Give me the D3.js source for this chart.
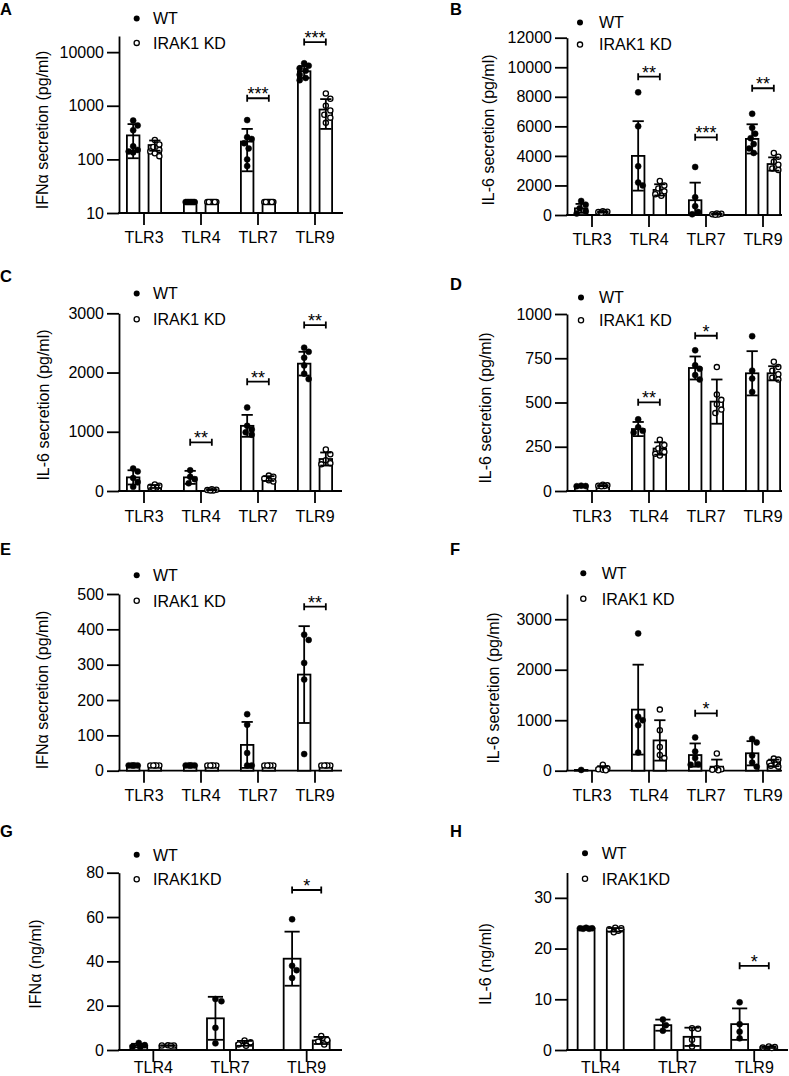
<!DOCTYPE html>
<html><head><meta charset="utf-8">
<script src="https://cdn.jsdelivr.net/npm/d3@7"></script>
<style>
body{margin:0;background:#fff}
svg{display:block}
text{font-family:"Liberation Sans",Arial,sans-serif;fill:#000}
</style>
</head><body>
<svg id="c" width="789" height="1076"></svg>
<script>
// ---------- DATA ----------
const cats4 = ["TLR3","TLR4","TLR7","TLR9"];
const cats3 = ["TLR4","TLR7","TLR9"];
const seriesNames = ["WT","IRAK1 KD"];
const seriesNamesGH = ["WT","IRAK1KD"];

// Panel A (log scale)
const aTicks = [10,100,1000,10000];
const aWTMean = [280,16,215,4400];
const aWTSD = [175,0,155,1100];
const aKDMean = [185,16,16,850];
const aKDSD = [40,0,0,480];
const aWTPts = [[530,430,350,175,150,140,135],[16,16,16,16,16,16,16],[540,260,240,200,160,100,75],[6200,5600,5000,4500,3800,3300,3000]];
const aKDPts = [[230,190,170,150,140,130,115],[16,16,16,16,16,16,16],[16,16,16,16,16,16,16],[1700,1350,1000,820,680,600,480]];
const aSig = [{cat:"TLR7",y:1380,label:"***"},{cat:"TLR9",y:15400,label:"***"}];

// Panel B
const bTicks = [0,2000,4000,6000,8000,10000,12000];
const bWTMean = [450,4000,1000,5150];
const bWTSD = [300,2350,1190,990];
const bKDMean = [200,1700,60,3450];
const bKDSD = [40,380,30,450];
const bWTPts = [[950,700,450,250,100],[8300,6000,3300,2200,2000],[3250,1200,600,200,50],[6850,5900,5500,5200,4800,4500,4200]];
const bKDPts = [[250,220,200,180,150],[2300,2000,1800,1600,1400,1300],[100,80,50,30,20],[4200,3950,3600,3400,3150,3050]];
const bSig = [{cat:"TLR4",y:9360,label:"**"},{cat:"TLR7",y:5260,label:"***"},{cat:"TLR9",y:8580,label:"**"}];

// Panel C
const cTicks = [0,1000,2000,3000];
const cWTMean = [230,230,1100,2150];
const cWTSD = [120,110,185,200];
const cKDMean = [76,20,210,540];
const cKDSD = [25,8,40,110];
const cWTPts = [[380,330,220,150,70],[350,240,200,130],[1410,1100,1040,990,950],[2420,2350,2250,2120,1980,1890]];
const cKDPts = [[110,90,70,60,50],[30,20,15,10,10],[260,240,210,180,160],[700,620,520,470,450]];
const cSig = [{cat:"TLR4",y:822,label:"**"},{cat:"TLR7",y:1845,label:"**"},{cat:"TLR9",y:2802,label:"**"}];

// Panel D
const dTicks = [0,250,500,750,1000];
const dWTMean = [28,350,695,665];
const dWTSD = [0,40,65,125];
const dKDMean = [30,240,505,665];
const dKDSD = [3,35,125,40];
const dWTPts = [[30,28,27],[405,360,340,330],[795,710,690,655,630],[875,680,635,560]];
const dKDPts = [[35,32,30,28,27],[290,260,240,220,210,200],[700,545,515,490,460,440],[730,700,680,660,640,630]];
const dSig = [{cat:"TLR4",y:501,label:"**"},{cat:"TLR7",y:877,label:"*"}];

// Panel E
const eTicks = [0,100,200,300,400,500];
const eWTMean = [15,15,73,272];
const eWTSD = [0,0,65,137];
const eKDMean = [15,15,15,15];
const eKDSD = [0,0,0,0];
const eWTPts = [[15,15,15,15,15],[15,15,15,15,15],[160,130,50,15,15],[385,370,305,258,47]];
const eKDPts = [[15,15,15,15,15],[15,15,15,15,15],[15,15,15,15,15],[15,15,15,15,15]];
const eSig = [{cat:"TLR9",y:464,label:"**"}];

// Panel F
const fTicks = [0,1000,2000,3000];
const fWTMean = [15,1210,310,345];
const fWTSD = [0,890,230,240];
const fKDMean = [45,600,80,155];
const fKDSD = [45,400,140,65];
const fWTPts = [[15],[2720,1070,1000,900,360],[660,380,250,130,120],[630,560,300,160,80]];
const fKDPts = [[120,50,30,20,10],[1210,800,470,310,250],[340,50,30,20,10],[240,220,160,120,100,80]];
const fSig = [{cat:"TLR7",y:1136,label:"*"}];

// Panel G
const gTicks = [0,20,40,60,80];
const gWTMean = [2.0,14.3,41.2];
const gWTSD = [0.8,9.7,12.2];
const gKDMean = [2.0,3.0,4.3];
const gKDSD = [0.1,1.1,1.6];
const gWTPts = [[3.2,2.2,1.6,1.2],[23,22,10,3],[59,38,36,32.5]];
const gKDPts = [[2.1,2.0,1.9,2.0],[4.3,3.5,2.5,1.9],[6.3,4.5,3.8,2.5]];
const gSig = [{cat:"TLR9",y:72.2,label:"*"}];

// Panel H
const hTicks = [0,10,20,30];
const hWTMean = [24.0,4.9,5.1];
const hWTSD = [0.1,1.1,3.1];
const hKDMean = [23.7,2.6,0.55];
const hKDSD = [0.35,1.8,0.15];
const hWTPts = [[24.1,24.0,23.9,24.0,23.9],[6.0,4.9,3.8],[9.4,5.1,3.6,2.3]];
const hKDPts = [[24.1,23.8,23.5,23.2,24.0],[4.3,4.2,2.0,0.7],[0.7,0.6,0.5,0.4]];
const hSig = [{cat:"TLR9",y:16.6,label:"*"}];

const titles = {
  A:"IFNα secretion (pg/ml)", B:"IL-6 secretion (pg/ml)", C:"IL-6 secretion (pg/ml)", D:"IL-6 secretion (pg/ml)",
  E:"IFNα secretion (pg/ml)", F:"IL-6 secretion (pg/ml)", G:"IFNα (ng/ml)", H:"IL-6 (ng/ml)"
};

// ---------- LAYOUT ----------
const layout = {
  A:{ax:119,base:213,top:36,xr:[115.5,343.5],xEnd:343,log:true,max:20000,letter:[0,15],leg:[136.7,18.5,42.9,153],title:[42,130],lab:243.3},
  B:{ax:567,base:215,top:37.7,xr:[563.5,791.5],xEnd:782,max:12000,letter:[450,15],leg:[580,22.6,44.6,599],title:[488.3,130],lab:245},
  C:{ax:119,base:491,top:313.3,xr:[115.5,343.5],xEnd:342,max:3000,letter:[0,281.7],leg:[136.7,293.5,319.2,153],title:[42.7,405],lab:521.7},
  D:{ax:567,base:491,top:314,xr:[563.5,791.5],xEnd:782,max:1000,letter:[450,290],leg:[581,297.5,320.2,599],title:[485,408],lab:521.7},
  E:{ax:119,base:770.7,top:594,xr:[115.5,343.5],xEnd:342,max:500,letter:[0,555],leg:[136.7,575.2,600.8,153],title:[41.7,690],lab:801},
  F:{ax:567,base:770.7,top:594,xr:[563.5,791.5],xEnd:782,max:3500,letter:[450,555],leg:[583.3,573.2,598.8,601.7],title:[493.3,688],lab:801},
  G:{ax:119,base:1050,top:872.7,xr:[115,345],xEnd:342,max:80,letter:[0,836.7],leg:[136.7,854.8,879.2,153],title:[35,964],lab:1072.5},
  H:{ax:567,base:1050,top:872.5,xr:[562.3,792.6],xEnd:788,max:35,letter:[450,836.7],leg:[585,853.2,878.8,601.7],title:[485,964],lab:1072.5}
};

const panels = [
  {id:"A",cats:cats4,ticks:aTicks,wm:aWTMean,ws:aWTSD,km:aKDMean,ks:aKDSD,wp:aWTPts,kp:aKDPts,sig:aSig,names:seriesNames},
  {id:"B",cats:cats4,ticks:bTicks,wm:bWTMean,ws:bWTSD,km:bKDMean,ks:bKDSD,wp:bWTPts,kp:bKDPts,sig:bSig,names:seriesNames},
  {id:"C",cats:cats4,ticks:cTicks,wm:cWTMean,ws:cWTSD,km:cKDMean,ks:cKDSD,wp:cWTPts,kp:cKDPts,sig:cSig,names:seriesNames},
  {id:"D",cats:cats4,ticks:dTicks,wm:dWTMean,ws:dWTSD,km:dKDMean,ks:dKDSD,wp:dWTPts,kp:dKDPts,sig:dSig,names:seriesNames},
  {id:"E",cats:cats4,ticks:eTicks,wm:eWTMean,ws:eWTSD,km:eKDMean,ks:eKDSD,wp:eWTPts,kp:eKDPts,sig:eSig,names:seriesNames},
  {id:"F",cats:cats4,ticks:fTicks,wm:fWTMean,ws:fWTSD,km:fKDMean,ks:fKDSD,wp:fWTPts,kp:fKDPts,sig:fSig,names:seriesNames},
  {id:"G",cats:cats3,ticks:gTicks,wm:gWTMean,ws:gWTSD,km:gKDMean,ks:gKDSD,wp:gWTPts,kp:gKDPts,sig:gSig,names:seriesNamesGH},
  {id:"H",cats:cats3,ticks:hTicks,wm:hWTMean,ws:hWTSD,km:hKDMean,ks:hKDSD,wp:hWTPts,kp:hKDPts,sig:hSig,names:seriesNamesGH}
];

const svg = d3.select("#c");
const SW = 1.8, R = 3, FS = 16;

function swarm(vals, y, cx, half) {
  const pts = vals.map(v => ({v, py: y(v)}));
  const order = pts.slice().sort((a,b) => a.py - b.py);
  const placed = [];
  const step = 1.5;
  order.forEach(p => {
    let best = 0, bestD = -1, done = false;
    for (let k = 0; k*step <= half; k++) {
      const cands = k === 0 ? [0] : [k*step, -k*step];
      for (const dx of cands) {
        let md = Infinity;
        placed.forEach(q => { const d = Math.hypot(q.dx - dx, q.py - p.py); if (d < md) md = d; });
        if (md >= 2*R + 0.3) { best = dx; done = true; break; }
        if (md > bestD) { bestD = md; best = dx; }
      }
      if (done) break;
    }
    p.dx = best; placed.push(p);
  });
  return pts.map(p => ({v: p.v, x: cx + p.dx, y: p.py}));
}

panels.forEach(P => {
  const L = layout[P.id];
  const g = svg.append("g");
  const y = L.log
    ? d3.scaleLog().domain([10, L.max]).range([L.base, L.top])
    : d3.scaleLinear().domain([0, L.max]).range([L.base, L.top]);
  const x = d3.scaleBand().domain(P.cats).range(L.xr).paddingInner(0).paddingOuter(0);
  const step = x.step();
  const off = step * 0.19, bw = step * 0.22;
  const cx = c => x(c) + x.bandwidth()/2;
  const ymin = L.log ? 10 : 0;

  // y axis
  const yAx = g.append("g").attr("transform", `translate(${L.ax},0)`)
    .call(d3.axisLeft(y).tickValues(P.ticks).tickSize(12).tickSizeOuter(0).tickPadding(3).tickFormat(d3.format("d")));
  yAx.selectAll("path,line").attr("stroke","#000").attr("stroke-width",SW);
  yAx.selectAll("text").attr("font-size",FS).attr("font-family","Liberation Sans, Arial, sans-serif");

  // x axis
  const xAx = g.append("g").attr("transform", `translate(0,${L.base})`)
    .call(d3.axisBottom(x).tickSize(12).tickSizeOuter(0).tickPadding(L.lab - L.base - 12 - FS*0.71));
  xAx.select(".domain").remove();
  xAx.selectAll("line").attr("stroke","#000").attr("stroke-width",SW);
  xAx.selectAll("text").attr("font-size",FS).attr("font-family","Liberation Sans, Arial, sans-serif");
  g.append("line").attr("x1",L.ax - SW/2).attr("x2",L.xEnd).attr("y1",L.base).attr("y2",L.base)
    .attr("stroke","#000").attr("stroke-width",SW);

  const series = [
    {m:P.wm, s:P.ws, p:P.wp, dx:-off, fill:"#000"},
    {m:P.km, s:P.ks, p:P.kp, dx:off, fill:"#fff"}
  ];
  series.forEach(S => {
    P.cats.forEach((c,i) => {
      const bx = cx(c) + S.dx;
      const top = y(Math.max(S.m[i], ymin));
      g.append("rect").attr("x", bx - bw/2).attr("y", top).attr("width", bw).attr("height", Math.max(0, L.base - top))
        .attr("fill","#fff").attr("stroke","#000").attr("stroke-width",SW);
      swarm(S.p[i], y, bx, bw/2 - 1).forEach(pt => {
        g.append("circle").attr("cx",pt.x).attr("cy",pt.y).attr("r", S.fill === "#000" ? R : R - 0.4)
          .attr("fill",S.fill).attr("stroke","#000").attr("stroke-width", S.fill === "#000" ? 0.5 : 1.3);
      });
      if (S.s[i] > 0) {
        const hi = y(S.m[i] + S.s[i]);
        const lo = y(Math.max(S.m[i] - S.s[i], ymin));
        const cw = bw * 0.45;
        g.append("line").attr("x1",bx).attr("x2",bx).attr("y1",hi).attr("y2",lo).attr("stroke","#000").attr("stroke-width",SW);
        g.append("line").attr("x1",bx-cw).attr("x2",bx+cw).attr("y1",hi).attr("y2",hi).attr("stroke","#000").attr("stroke-width",SW);
        if (S.m[i] - S.s[i] > ymin)
          g.append("line").attr("x1",bx-cw).attr("x2",bx+cw).attr("y1",lo).attr("y2",lo).attr("stroke","#000").attr("stroke-width",SW);
      }
    });
  });

  // significance brackets
  P.sig.forEach(s => {
    const x1 = cx(s.cat) - off, x2 = cx(s.cat) + off, yy = y(s.y);
    g.append("path").attr("d", `M${x1},${yy-3.5}V${yy+3.5}M${x1},${yy}H${x2}M${x2},${yy-3.5}V${yy+3.5}`)
      .attr("fill","none").attr("stroke","#000").attr("stroke-width",SW);
    g.append("text").attr("x",(x1+x2)/2).attr("y",yy+2).attr("text-anchor","middle")
      .attr("font-size",18).text(s.label);
  });

  // legend
  const [lx, ly1, ly2, tx] = L.leg;
  g.append("circle").attr("cx",lx).attr("cy",ly1).attr("r",R).attr("fill","#000");
  g.append("circle").attr("cx",lx).attr("cy",ly2).attr("r",R-0.4).attr("fill","#fff").attr("stroke","#000").attr("stroke-width",1.3);
  g.append("text").attr("x",tx).attr("y",ly1+5.7).attr("font-size",FS).text(P.names[0]);
  g.append("text").attr("x",tx).attr("y",ly2+5.7).attr("font-size",FS).text(P.names[1]);

  // y title
  g.append("text").attr("transform",`translate(${L.title[0]+6},${L.title[1]}) rotate(-90)`)
    .attr("text-anchor","middle").attr("font-size",FS).text(titles[P.id]);

  // panel letter
  g.append("text").attr("x",L.letter[0]).attr("y",L.letter[1]).attr("font-size",16.5).attr("font-weight","bold").text(P.id);
});
</script>
</body></html>
